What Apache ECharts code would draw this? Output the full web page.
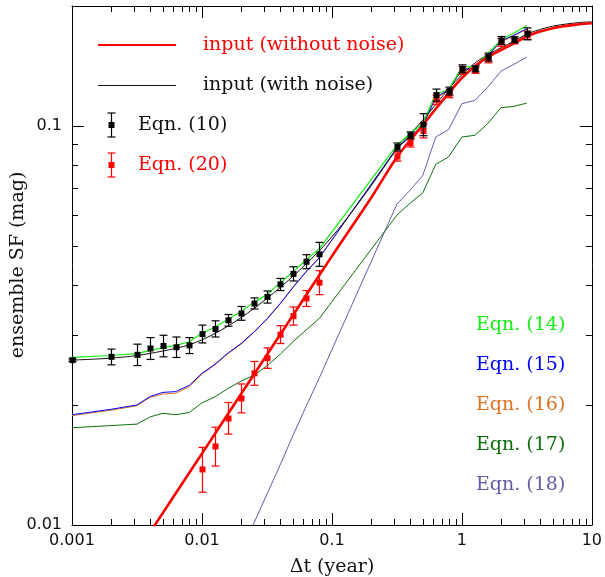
<!DOCTYPE html>
<html><head><meta charset="utf-8">
<script src="https://cdn.jsdelivr.net/npm/echarts@6/dist/echarts.min.js"></script>
<style>html,body{margin:0;padding:0;background:#fff}#c{width:605px;height:577px}</style>
</head><body><div id="c"></div>
<script>
// ---------- axis ranges and tick labels ----------
const X_MIN = 0.001, X_MAX = 10, Y_MIN = 0.01, Y_MAX = 0.2;
const xTickLabels = ['0.001', '0.01', '0.1', '1', '10'];
const yTickLabels = ['0.01', '0.1'];
const xMinorTicks = [0.002,0.003,0.004,0.005,0.006,0.007,0.008,0.009,
  0.02,0.03,0.04,0.05,0.06,0.07,0.08,0.09,
  0.2,0.3,0.4,0.5,0.6,0.7,0.8,0.9,
  2,3,4,5,6,7,8,9];
const yMinorTicks = [0.02,0.03,0.04,0.05,0.06,0.07,0.08,0.09,0.2];

// ---------- time lags (years) ----------
const dtPoints = [0.001,0.002,0.00316,0.004,0.005,0.0063,0.008,0.01,0.0126,0.0159,0.02,0.0252,0.0317,0.04,0.05,0.063,0.08,
  0.316,0.398,0.5,0.63,0.79,1.0,1.26,1.58,2.0,2.5,3.16];

// ---------- Eqn. (10) points with error bars ----------
const eqn10Y  = [0.0259,0.0264,0.0267,0.0277,0.0281,0.0279,0.0282,0.0301,0.0310,0.0326,0.0339,0.0359,0.0373,0.0401,0.0426,0.0457,0.0477,
  0.0886,0.0948,0.1008,0.1196,0.1224,0.1392,0.1392,0.1489,0.1639,0.1646,0.1703];
const eqn10Lo = [0.0257,0.0252,0.0251,0.0260,0.0264,0.0263,0.0269,0.0286,0.0296,0.0315,0.0326,0.0348,0.0360,0.0387,0.0409,0.0439,0.0445,
  0.0866,0.0929,0.0946,0.1155,0.1196,0.1360,0.1368,0.1455,0.1602,0.1618,0.1645];
const eqn10Hi = [0.0261,0.0276,0.0284,0.0295,0.0299,0.0296,0.0295,0.0317,0.0325,0.0337,0.0353,0.0371,0.0386,0.0415,0.0444,0.0476,0.0511,
  0.0907,0.0967,0.1074,0.1238,0.1252,0.1424,0.1416,0.1524,0.1677,0.1675,0.1763];

// ---------- Eqn. (20) points with error bars ----------
const eqn20X  = [0.01,0.0126,0.0159,0.02,0.0252,0.0317,0.04,0.05,0.063,0.08,
  0.316,0.398,0.5,0.63,0.79,1.0,1.26,1.58,2.0,2.5,3.16];
const eqn20Y  = [0.01378,0.01574,0.01849,0.02076,0.0240,0.0262,0.0300,0.0334,0.0370,0.0405,
  0.0839,0.0907,0.0972,0.1164,0.1205,0.1379,0.1380,0.1475,0.1620,0.1635,0.1690];
const eqn20Lo = [0.01208,0.01405,0.0169,0.0191,0.0224,0.0247,0.0285,0.0317,0.0353,0.0378,
  0.0817,0.0886,0.0934,0.1134,0.1178,0.1348,0.1356,0.1441,0.1583,0.1607,0.1650];
const eqn20Hi = [0.01565,0.01759,0.02028,0.02257,0.0257,0.0278,0.0316,0.0352,0.0387,0.0434,
  0.0861,0.0928,0.1012,0.1195,0.1233,0.1411,0.1404,0.1509,0.1658,0.1664,0.1731];

// ---------- model curves (Eqns. 14-18) on dtPoints ----------
const eqn14Y = [0.0263,0.0266,0.0269,0.0274,0.0278,0.0282,0.0288,0.0303,0.0313,0.0328,0.0343,0.0362,0.0378,0.0405,0.0431,0.0461,0.0493,
  0.0895,0.0957,0.1014,0.1205,0.1233,0.1405,0.1410,0.1518,0.1645,0.1709,0.1787];
const eqn15Y = [0.0189,0.0195,0.0200,0.0210,0.0215,0.0216,0.0224,0.0240,0.0253,0.0270,0.0285,0.0305,0.0329,0.0359,0.0394,0.0431,0.0468,
  0.0881,0.0939,0.1004,0.1182,0.1233,0.1392,0.1392,0.1503,0.1632,0.1688,0.1754];
const eqn16Y = [0.0188,0.0194,0.0199,0.0209,0.0213,0.0214,0.0222,0.0239,0.0252,0.0269,0.0284,0.0304,0.0328,0.0358,0.0393,0.0430,0.0467,
  0.0880,0.0937,0.1000,0.1175,0.1228,0.1385,0.1390,0.1498,0.1625,0.1685,0.1750];
const eqn17Y = [0.01753,0.01775,0.0179,0.01867,0.01905,0.0189,0.01915,0.02024,0.02096,0.0220,0.02294,0.02375,0.02506,0.0268,0.02877,0.03078,0.03294,
  0.0598,0.0640,0.0680,0.0802,0.0837,0.0939,0.0948,0.1014,0.1112,0.1120,0.1142];
const eqn18X = [0.02,0.0252,0.0317,0.04,0.05,0.063,0.08,0.316,0.398,0.5,0.63,0.79,1.0,1.26,1.58,2.0,2.5,3.16];
const eqn18Y = [0.00857,0.01013,0.01197,0.01415,0.01673,0.01977,0.02338,0.0637,0.0690,0.0752,0.0939,0.0980,0.1138,0.1160,0.1252,0.1373,0.1427,0.1489];

// ---------- input curves ----------
const inputCleanX = [0.004,0.01,0.02,0.05,0.1,0.2,0.32,0.5,0.63,0.8,1.0,1.3,1.64,2.5,3.3,5,8,10];
const inputCleanY = [0.0096,0.0151,0.0213,0.0335,0.0472,0.0660,0.0840,0.1005,0.1105,0.1215,0.1320,0.1425,0.1500,0.1610,0.1690,0.1760,0.1800,0.1810];
const inputNoisyX = [0.001,0.002,0.00316,0.005,0.008,0.0126,0.02,0.0317,0.05,0.08,0.12,0.2,0.32,0.5,0.8,1.0,1.3,1.64,2.5,3.3,5,8,10];
const inputNoisyY = [0.0259,0.0262,0.0266,0.0273,0.0283,0.0302,0.0331,0.0370,0.0420,0.0487,0.0567,0.0708,0.0880,0.1035,0.1245,0.1345,0.1450,0.1520,0.1630,0.1710,0.1780,0.1818,0.1825];

// ---------- styling ----------
const C14 = '#11ee11', C15 = '#0000ff', C16 = '#e07020', C17 = '#0a700a', C18 = '#6a58a8';
const SERIF = '"DejaVu Serif", serif';
const SANS = '"DejaVu Sans", sans-serif';

const zip = (xs, ys) => xs.map((x, i) => [x, ys[i]]);
const isPow10 = v => Math.abs(Math.log10(v) - Math.round(Math.log10(v))) < 1e-6;
function labelFor(list, v) {
  if (!isPow10(v)) return '';
  const e = Math.round(Math.log10(v));
  const s = list.find(t => Math.abs(Math.log10(parseFloat(t)) - e) < 1e-6);
  return s || '';
}

function lineSeries(name, data, color, width, smooth) {
  return { name, type: 'line', data, showSymbol: false, symbol: 'none', smooth: smooth || false,
    lineStyle: { color, width }, itemStyle: { color }, silent: true, animation: false, z: 2 };
}

function errSeries(name, xs, ys, los, his, color) {
  return {
    name, type: 'custom', clip: false, animation: false, z: 5,
    data: xs.map((x, i) => [x, ys[i], los[i], his[i]]),
    encode: { x: 0, y: [1, 2, 3] },
    renderItem: function (params, api) {
      const x = api.value(0);
      const p = api.coord([x, api.value(1)]);
      const lo = api.coord([x, api.value(2)]);
      const hi = api.coord([x, api.value(3)]);
      const cx = Math.round(p[0]) + 0.5, cap = 4;
      return { type: 'group', children: [
        { type: 'line', shape: { x1: cx, y1: lo[1], x2: cx, y2: hi[1] }, style: { stroke: color, lineWidth: 1.2 } },
        { type: 'line', shape: { x1: cx - cap, y1: lo[1], x2: cx + cap, y2: lo[1] }, style: { stroke: color, lineWidth: 1.2 } },
        { type: 'line', shape: { x1: cx - cap, y1: hi[1], x2: cx + cap, y2: hi[1] }, style: { stroke: color, lineWidth: 1.2 } },
        { type: 'rect', shape: { x: cx - 3, y: p[1] - 3, width: 6, height: 6 }, style: { fill: color } }
      ]};
    }
  };
}

function minorTickSeries(data, isX) {
  return {
    type: 'custom', clip: false, animation: false, silent: true, z: 10,
    data: data,
    encode: { x: 0, y: 1 },
    renderItem: function (params, api) {
      const L = 6;
      if (isX) {
        const v = api.value(0);
        const b = api.coord([v, Y_MIN]), t = api.coord([v, Y_MAX]);
        const x = Math.round(b[0]) + 0.5;
        return { type: 'group', children: [
          { type: 'line', shape: { x1: x, y1: b[1], x2: x, y2: b[1] - L }, style: { stroke: '#000', lineWidth: 1 } },
          { type: 'line', shape: { x1: x, y1: t[1], x2: x, y2: t[1] + L }, style: { stroke: '#000', lineWidth: 1 } }
        ]};
      } else {
        const v = api.value(1);
        const l = api.coord([X_MIN, v]), r = api.coord([X_MAX, v]);
        const y = Math.round(l[1]) + 0.5;
        return { type: 'group', children: [
          { type: 'line', shape: { x1: l[0], y1: y, x2: l[0] + L, y2: y }, style: { stroke: '#000', lineWidth: 1 } },
          { type: 'line', shape: { x1: r[0], y1: y, x2: r[0] - L, y2: y }, style: { stroke: '#000', lineWidth: 1 } }
        ]};
      }
    }
  };
}

const axisLineStyle = { show: true, lineStyle: { color: '#000', width: 1 } };
const tickStyle = { show: true, inside: true, length: 12, lineStyle: { color: '#000', width: 1 } };

const chart = echarts.init(document.getElementById('c'), null, { renderer: 'canvas' });

function txt(x, y, text, color, align) {
  return { type: 'text', x, y, z: 100, style: { text, fill: color, font: '19px ' + SERIF,
    textAlign: align || 'left', textVerticalAlign: 'middle', align: align || 'left', verticalAlign: 'middle' } };
}
function gline(x1, y1, x2, y2, color, w) {
  return { type: 'line', z: 100, shape: { x1, y1, x2, y2 }, style: { stroke: color, lineWidth: w } };
}
function legendErr(cx, cy, color) {
  return [
    gline(cx + 0.5, cy - 12, cx + 0.5, cy + 12, color, 1.2),
    gline(cx - 3.5, cy - 12, cx + 4.5, cy - 12, color, 1.2),
    gline(cx - 3.5, cy + 12, cx + 4.5, cy + 12, color, 1.2),
    { type: 'rect', z: 100, shape: { x: cx - 2.5, y: cy - 3, width: 6, height: 6 }, style: { fill: color } }
  ];
}

const option = {
  animation: false,
  backgroundColor: '#fff',
  grid: { left: 72, top: 6, right: 13, bottom: 52, containLabel: false },
  xAxis: [
    { type: 'log', logBase: 10, min: X_MIN, max: X_MAX, position: 'bottom',
      axisLine: axisLineStyle, axisTick: tickStyle, splitLine: { show: false }, minorTick: { show: false },
      axisLabel: { show: true, margin: 8, color: '#111', fontSize: 16, fontFamily: SANS,
        showMinLabel: true, showMaxLabel: true, formatter: v => labelFor(xTickLabels, v) } },
    { type: 'log', logBase: 10, min: X_MIN, max: X_MAX, position: 'top',
      axisLine: axisLineStyle, axisTick: tickStyle, splitLine: { show: false }, axisLabel: { show: false } }
  ],
  yAxis: [
    { type: 'log', logBase: 10, min: Y_MIN, max: Y_MAX, position: 'left',
      axisLine: axisLineStyle, axisTick: tickStyle, splitLine: { show: false }, minorTick: { show: false },
      axisLabel: { show: true, margin: 10, color: '#111', fontSize: 16, fontFamily: SANS,
        showMinLabel: true, showMaxLabel: false, formatter: v => labelFor(yTickLabels, v) } },
    { type: 'log', logBase: 10, min: Y_MIN, max: Y_MAX, position: 'right',
      axisLine: axisLineStyle, axisTick: tickStyle, splitLine: { show: false }, axisLabel: { show: false } }
  ],
  series: [
    lineSeries('Eqn. (18)', zip(eqn18X, eqn18Y), C18, 1),
    lineSeries('Eqn. (17)', zip(dtPoints, eqn17Y), C17, 1),
    lineSeries('Eqn. (16)', zip(dtPoints, eqn16Y), C16, 1),
    lineSeries('Eqn. (15)', zip(dtPoints, eqn15Y), C15, 1),
    lineSeries('input (with noise)', zip(inputNoisyX, inputNoisyY), '#111', 1, 0.3),
    lineSeries('Eqn. (14)', zip(dtPoints, eqn14Y), C14, 1.2),
    lineSeries('input (without noise)', zip(inputCleanX, inputCleanY), '#ff0000', 2.6, 0.3),
    errSeries('Eqn. (20)', eqn20X, eqn20Y, eqn20Lo, eqn20Hi, '#ff0000'),
    errSeries('Eqn. (10)', dtPoints, eqn10Y, eqn10Lo, eqn10Hi, '#000000'),
    minorTickSeries(xMinorTicks.map(v => [v, Y_MIN]), true),
    minorTickSeries(yMinorTicks.map(v => [X_MIN, v]), false)
  ],
  graphic: [
    gline(98, 45, 176, 45, '#ff0000', 2.2),
    txt(203, 45, 'input (without noise)', '#ff0000'),
    gline(98, 85.5, 176, 85.5, '#111', 1),
    txt(203, 85, 'input (with noise)', '#111'),
    ...legendErr(111, 125, '#000'),
    txt(138, 125, 'Eqn. (10)', '#111'),
    ...legendErr(111, 165, '#ff0000'),
    txt(138, 165, 'Eqn. (20)', '#ff0000'),
    txt(476, 325, 'Eqn. (14)', C14),
    txt(476, 365, 'Eqn. (15)', C15),
    txt(476, 405, 'Eqn. (16)', C16),
    txt(476, 445, 'Eqn. (17)', C17),
    txt(476, 485, 'Eqn. (18)', C18),
    { type: 'text', x: 18, y: 265, rotation: Math.PI / 2, z: 100,
      style: { text: 'ensemble SF (mag)', fill: '#111', font: '19px ' + SERIF,
        textAlign: 'center', textVerticalAlign: 'middle', align: 'center', verticalAlign: 'middle' } },
    { type: 'text', x: 332, y: 567, z: 100,
      style: { text: 'Δt (year)', fill: '#111', font: '19px ' + SERIF,
        textAlign: 'center', textVerticalAlign: 'middle', align: 'center', verticalAlign: 'middle' } }
  ]
};
chart.setOption(option);
</script></body></html>
